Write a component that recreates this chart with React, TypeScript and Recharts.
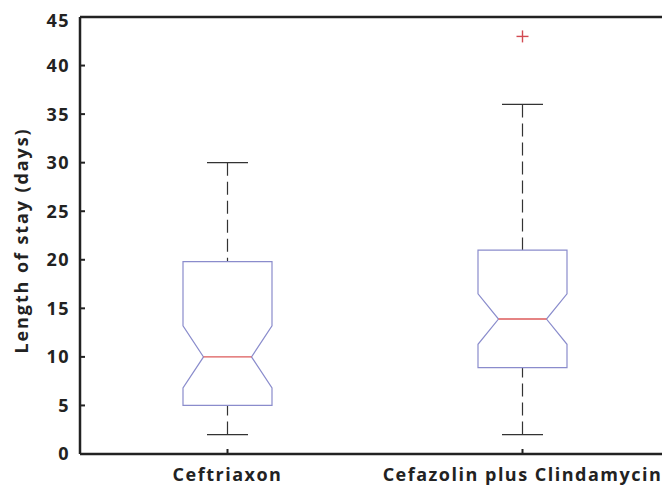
import { ComposedChart, Bar, Scatter, XAxis, YAxis, ReferenceLine } from 'recharts';

// ── Data ──────────────────────────────────────────────────────────────────────

const GROUPS = ['Ceftriaxon', 'Cefazolin plus Clindamycin'];
const WHISKER_LOW = [2, 2];
const Q1 = [5, 8.9];
const NOTCH_LOW = [6.8, 11.3];
const MEDIAN = [10, 13.9];
const NOTCH_HIGH = [13.2, 16.5];
const Q3 = [19.8, 21];
const WHISKER_HIGH = [30, 36];
const OUTLIERS = [null, 43];
const Y_TICKS = [0, 5, 10, 15, 20, 25, 30, 35, 40, 45];

const data = GROUPS.map((name, i) => ({
  name,
  range: [WHISKER_LOW[i], WHISKER_HIGH[i]],
  low: WHISKER_LOW[i],
  q1: Q1[i],
  notchLow: NOTCH_LOW[i],
  median: MEDIAN[i],
  notchHigh: NOTCH_HIGH[i],
  q3: Q3[i],
  high: WHISKER_HIGH[i],
  outlier: OUTLIERS[i],
}));

const FONT = '"Open Sans", "DejaVu Sans", sans-serif';
const TEXT = '#222';
const BOX = '#8a8ccc';
const MED = '#dc5a5a';
const WHISK = '#333';

// ── Notched box, drawn from the bar's pixel range (low..high whisker) ────────

function NotchedBox(props: any) {
  const { x, y, width, height, payload } = props;
  if (!payload || !Number.isFinite(y) || !Number.isFinite(height)) return null;
  const cx = x + width / 2;
  const { low, high } = payload;
  const py = (v: number) => y + height - ((v - low) / (high - low)) * height;
  const hw = 44.5;
  const nw = 24;
  const cap = 20.5;
  const yQ1 = py(payload.q1);
  const yQ3 = py(payload.q3);
  const yNL = py(payload.notchLow);
  const yNH = py(payload.notchHigh);
  const yMed = py(payload.median);
  const yLow = py(low);
  const yHigh = py(high);
  const pts = [
    [cx - hw, yQ3], [cx + hw, yQ3], [cx + hw, yNH], [cx + nw, yMed], [cx + hw, yNL],
    [cx + hw, yQ1], [cx - hw, yQ1], [cx - hw, yNL], [cx - nw, yMed], [cx - hw, yNH],
  ].map((p) => p.join(',')).join(' ');
  return (
    <g>
      <line x1={cx} x2={cx} y1={yHigh} y2={yQ3} stroke={WHISK} strokeWidth={1.2} strokeDasharray="13 6" />
      <line x1={cx} x2={cx} y1={yLow} y2={yQ1} stroke={WHISK} strokeWidth={1.2} strokeDasharray="13 6" />
      <line x1={cx - cap} x2={cx + cap} y1={yHigh} y2={yHigh} stroke={WHISK} strokeWidth={1.2} />
      <line x1={cx - cap} x2={cx + cap} y1={yLow} y2={yLow} stroke={WHISK} strokeWidth={1.2} />
      <polygon points={pts} fill="none" stroke={BOX} strokeWidth={1.2} />
      <line x1={cx - nw} x2={cx + nw} y1={yMed} y2={yMed} stroke={MED} strokeWidth={1.4} />
    </g>
  );
}

function PlusMark(props: any) {
  const { cx, cy } = props;
  if (!Number.isFinite(cx) || !Number.isFinite(cy)) return null;
  return (
    <g stroke="#d24a52" strokeWidth={1.4}>
      <line x1={cx - 6} x2={cx + 6} y1={cy} y2={cy} />
      <line x1={cx} x2={cx} y1={cy - 6} y2={cy + 6} />
    </g>
  );
}

// top label is nudged down so it stays below the frame, like the original
function YTick(props: any) {
  const { x, y, payload } = props;
  return (
    <text x={x} y={Math.max(y, 21)} dy="0.355em" textAnchor="end"
      style={{ fontFamily: FONT, fontWeight: 700, fontSize: 18, fill: TEXT, letterSpacing: 1.5 }}>
      {payload.value}
    </text>
  );
}

function YLabel(props: any) {
  const vb = props.viewBox;
  const cy = vb.y + vb.height / 2 + 5;
  return (
    <text x={28} y={cy} transform={`rotate(-90, 28, ${cy})`} textAnchor="middle"
      style={{ fontFamily: FONT, fontWeight: 700, fontSize: 18, fill: TEXT, letterSpacing: 1.9 }}>
      Length of stay (days)
    </text>
  );
}

export default function App() {
  return (
    <div style={{ position: 'fixed', left: 0, top: 0, width: 662, height: 486, overflow: 'hidden', background: '#fff' }}>
      <ComposedChart width={680} height={486} data={data} margin={{ top: 17, right: 10, bottom: 0, left: 0 }}>
        <XAxis
          dataKey="name"
          height={32}
          tick={{ fontFamily: FONT, fontWeight: 700, fontSize: 18, fill: TEXT, letterSpacing: 1.5 }}
          tickSize={-5}
          tickMargin={19.5}
          tickLine={{ stroke: TEXT, strokeWidth: 2 }}
          axisLine={{ stroke: TEXT, strokeWidth: 2.5 }}
          interval={0}
        />
        <YAxis
          width={80}
          domain={[0, 45]}
          ticks={Y_TICKS}
          tick={<YTick />}
          tickSize={-5}
          tickMargin={15}
          tickLine={{ stroke: TEXT, strokeWidth: 2 }}
          axisLine={{ stroke: TEXT, strokeWidth: 2.5 }}
          label={<YLabel />}
        />
        <ReferenceLine y={45} stroke={TEXT} strokeWidth={2.5} />
        <Bar dataKey="range" barSize={89} shape={<NotchedBox />} isAnimationActive={false} />
        <Scatter dataKey="outlier" shape={<PlusMark />} isAnimationActive={false} />
      </ComposedChart>
    </div>
  );
}
